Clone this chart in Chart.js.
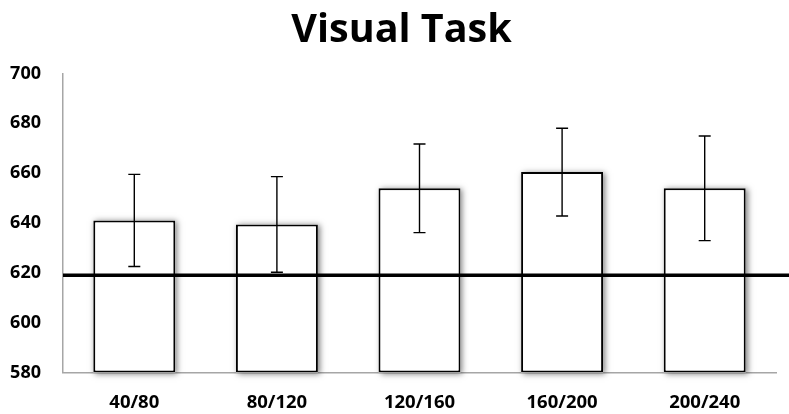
<!DOCTYPE html>
<html>
<head>
<meta charset="utf-8">
<script src="https://cdn.jsdelivr.net/npm/chart.js@4/dist/chart.umd.min.js"></script>
<style>
  html, body { margin: 0; padding: 0; background: #ffffff; }
  #wrap { width: 789px; height: 414px; }
</style>
</head>
<body>
<div id="wrap"><canvas id="c" width="789" height="414"></canvas></div>
<script>
// Conditions (ms range) and mean response time per condition
const categories = ['40/80', '80/120', '120/160', '160/200', '200/240'];
const meanValues = [641, 639.4, 653.9, 660.4, 653.9];
// Symmetric error (± value) for each mean
const errorValues = [18.5, 19.2, 17.8, 17.6, 21];
// Reference level drawn as a horizontal line
const baselineValue = [619];
const yTicks = [580, 600, 620, 640, 660, 680, 700];

const FONT = '"Open Sans", "Liberation Sans", sans-serif';

// Nudge the title block so it centres slightly right of the canvas middle
const titleOffset = {
  id: 'titleOffset',
  afterLayout(chart) {
    if (chart.titleBlock) chart.titleBlock.left = 14;
  }
};

// Soft drop shadow behind each bar (drawn before the bars themselves)
const barShadow = {
  id: 'barShadow',
  beforeDatasetsDraw(chart) {
    const ctx = chart.ctx;
    const meta = chart.getDatasetMeta(0);
    const bottom = chart.chartArea.bottom;
    ctx.save();
    ctx.shadowColor = 'rgba(0,0,0,0.5)';
    ctx.shadowBlur = 6;
    ctx.shadowOffsetX = 2;
    ctx.shadowOffsetY = 1;
    ctx.fillStyle = '#ffffff';
    meta.data.forEach(bar => {
      const p = bar.getProps(['x', 'y', 'width', 'base'], true);
      const b = Math.min(p.base, bottom);
      ctx.fillRect(p.x - p.width / 2, p.y, p.width, b - p.y);
    });
    ctx.restore();
  }
};

// Error bars and the reference line, positioned through the scales
const overlays = {
  id: 'overlays',
  afterDatasetsDraw(chart) {
    const ctx = chart.ctx;
    const y = chart.scales.y;
    const meta = chart.getDatasetMeta(0);
    ctx.save();
    ctx.strokeStyle = '#000000';
    ctx.lineWidth = 1.4;
    meta.data.forEach((bar, i) => {
      const x = bar.x;
      const top = y.getPixelForValue(meanValues[i] + errorValues[i]);
      const bot = y.getPixelForValue(meanValues[i] - errorValues[i]);
      const cap = 6;
      ctx.beginPath();
      ctx.moveTo(x, top); ctx.lineTo(x, bot);
      ctx.moveTo(x - cap, top); ctx.lineTo(x + cap, top);
      ctx.moveTo(x - cap, bot); ctx.lineTo(x + cap, bot);
      ctx.stroke();
    });
    const ly = y.getPixelForValue(baselineValue[0]);
    ctx.lineWidth = 3.6;
    ctx.beginPath();
    ctx.moveTo(chart.chartArea.left, ly);
    ctx.lineTo(chart.width, ly);
    ctx.stroke();
    ctx.restore();
  }
};

new Chart(document.getElementById('c'), {
  type: 'bar',
  data: {
    labels: categories,
    datasets: [{
      data: meanValues,
      base: yTicks[0],
      backgroundColor: '#ffffff',
      borderColor: '#000000',
      borderWidth: 2,
      borderSkipped: false,
      barPercentage: 0.575,
      categoryPercentage: 1.0
    }]
  },
  options: {
    responsive: false,
    animation: false,
    layout: { padding: { left: 0, right: 0, top: 0, bottom: 0 } },
    plugins: {
      legend: { display: false },
      tooltip: { enabled: false },
      title: {
        display: true,
        text: 'Visual Task',
        color: '#000000',
        font: { family: FONT, size: 39.5, weight: 'bold', lineHeight: 1.2 },
        padding: { top: 7, bottom: 19 }
      }
    },
    scales: {
      x: {
        grid: { display: false },
        border: { display: true, color: '#a6a6a6', width: 1.5 },
        ticks: {
          color: '#000000',
          font: { family: FONT, size: 18.5, weight: 'bold' },
          padding: 11,
          maxRotation: 0
        },
        afterFit(scale) { scale.height = 41.5; }
      },
      y: {
        min: 580,
        max: 700,
        grid: { display: false },
        border: { display: true, color: '#a6a6a6', width: 1.5 },
        afterBuildTicks(scale) { scale.ticks = yTicks.map(v => ({ value: v })); },
        ticks: {
          color: '#000000',
          font: { family: FONT, size: 18, weight: 'bold' },
          padding: 14
        },
        afterFit(scale) { scale.width = 63; }
      },
      // empty right-hand margin beside the plot
      yRight: {
        position: 'right',
        min: 580,
        max: 700,
        grid: { display: false },
        border: { display: false },
        ticks: { display: false },
        afterFit(scale) { scale.width = 13; }
      }
    }
  },
  plugins: [titleOffset, barShadow, overlays]
});
</script>
</body>
</html>
